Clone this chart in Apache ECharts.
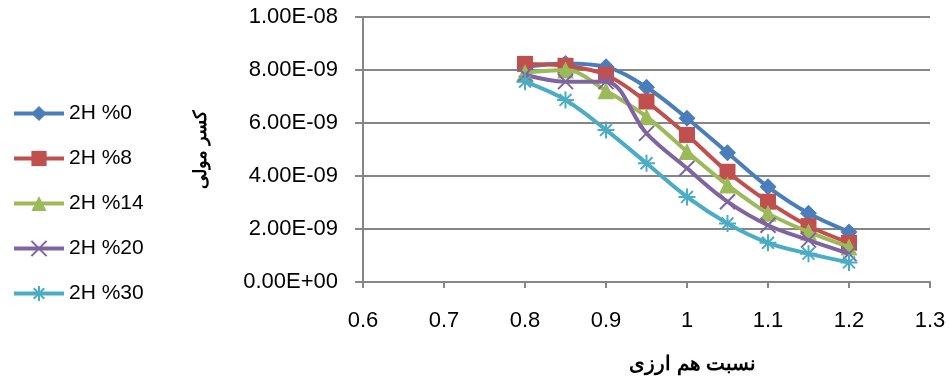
<!DOCTYPE html>
<html>
<head>
<meta charset="utf-8">
<script src="https://cdn.jsdelivr.net/npm/echarts@6/dist/echarts.min.js"></script>
<style>
html,body{margin:0;padding:0;background:#fff;}
#chart{width:949px;height:383px;}
</style>
</head>
<body>
<div id="chart"></div>
<script>
// Equivalence ratio (x) and mole fraction (y, ×1e-9) per H2 share
const ratios = [0.8, 0.85, 0.9, 0.95, 1.0, 1.05, 1.1, 1.15, 1.2];
const seriesNames = ['2H %0', '2H %8', '2H %14', '2H %20', '2H %30'];
const h2_0  = [8.12, 8.25, 8.12, 7.35, 6.18, 4.88, 3.59, 2.59, 1.89];
const h2_8  = [8.23, 8.16, 7.82, 6.81, 5.55, 4.16, 3.03, 2.11, 1.48];
const h2_14 = [7.90, 8.00, 7.22, 6.24, 4.92, 3.66, 2.59, 1.89, 1.32];
const h2_20 = [7.82, 7.56, 7.56, 5.61, 4.29, 3.03, 2.14, 1.58, 1.07];
const h2_30 = [7.56, 6.87, 5.74, 4.48, 3.21, 2.21, 1.48, 1.07, 0.74];
const yTicks = ['0.00E+00', '2.00E-09', '4.00E-09', '6.00E-09', '8.00E-09', '1.00E-08'];

const colors = ['#4A7EBB', '#C0504D', '#9BBB59', '#8064A2', '#4BACC6'];
const symbols = [
  'diamond',
  'rect',
  'triangle',
  'path://M0,0 L10,10 M10,0 L0,10',
  'path://M5,0 L5,10 M0,5 L10,5 M1.5,1.5 L8.5,8.5 M8.5,1.5 L1.5,8.5'
];
const symbolSizes = [17, 16, 17, 15, 17];
const values = [h2_0, h2_8, h2_14, h2_20, h2_30];
const font = 'Liberation Sans, Arial, sans-serif';

const chart = echarts.init(document.getElementById('chart'), null, {renderer: 'canvas'});

const series = values.map((vals, i) => {
  const stroked = i >= 3;
  return {
    name: seriesNames[i],
    type: 'line',
    smooth: 0.35,
    data: ratios.map((r, k) => [r, vals[k] * 1e-9]),
    symbol: symbols[i],
    symbolSize: symbolSizes[i],
    showAllSymbol: true,
    lineStyle: {color: colors[i], width: 4},
    itemStyle: stroked
      ? {color: colors[i], borderColor: colors[i], borderWidth: 2}
      : {color: colors[i], borderWidth: 0},
    z: 2 + i,
    emphasis: {disabled: true}
  };
});

chart.setOption({
  animation: false,
  backgroundColor: '#ffffff',
  grid: {left: 363, right: 19, top: 17, bottom: 101, containLabel: false},
  legend: {
    orient: 'vertical',
    left: 7,
    top: 98,
    itemWidth: 50,
    itemHeight: 19,
    itemGap: 24,
    data: seriesNames,
    lineStyle: {width: 4},
    textStyle: {fontFamily: font, fontSize: 21, color: '#000'}
  },
  xAxis: {
    type: 'value',
    min: 0.6,
    max: 1.3,
    interval: 0.1,
    name: 'نسبت هم ارزی',
    nameLocation: 'middle',
    nameGap: 72,
    nameTextStyle: {fontFamily: font, fontSize: 20, fontWeight: 'bold', color: '#000', padding: [0, 0, 0, 92]},
    axisLine: {lineStyle: {color: '#868686', width: 2}},
    axisTick: {show: true, length: 6, lineStyle: {color: '#868686', width: 2}},
    axisLabel: {
      fontFamily: font, fontSize: 22, color: '#000', margin: 28,
      formatter: v => String(Math.round(v * 10) / 10)
    },
    splitLine: {show: false}
  },
  yAxis: {
    type: 'value',
    min: 0,
    max: 1e-8,
    interval: 2e-9,
    name: 'کسر مولی',
    nameLocation: 'middle',
    nameGap: 153,
    nameRotate: 90,
    nameTextStyle: {fontFamily: font, fontSize: 18, fontWeight: 'bold', color: '#000'},
    axisLine: {show: true, lineStyle: {color: '#868686', width: 2}},
    axisTick: {show: true, length: 8, inside: false, lineStyle: {color: '#868686', width: 2}},
    axisLabel: {
      fontFamily: font, fontSize: 22, color: '#000', margin: 25,
      formatter: v => yTicks[Math.round(v / 2e-9)]
    },
    splitLine: {show: true, lineStyle: {color: '#868686', width: 2}}
  },
  series: series
});
</script>
</body>
</html>
